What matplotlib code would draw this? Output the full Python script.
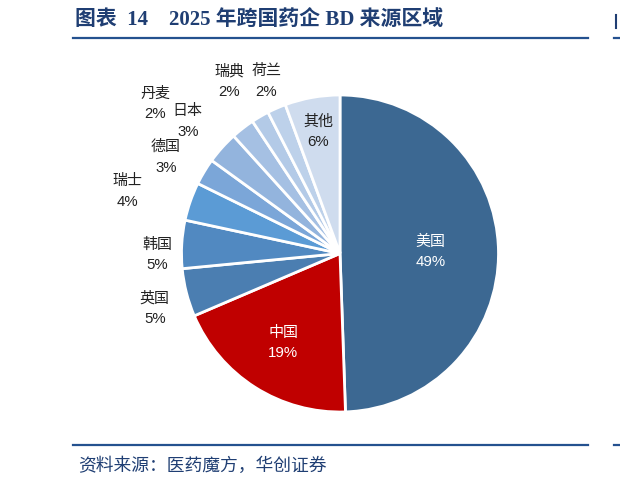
import matplotlib
matplotlib.use('Agg')
import matplotlib.pyplot as plt
import numpy as np
from matplotlib.lines import Line2D

# ---- data ----
regions = ['美国', '中国', '英国', '韩国', '瑞士', '德国', '日本', '丹麦', '瑞典', '荷兰', '其他']
shares = [49.4, 19.1, 4.9, 4.9, 3.9, 2.7, 3.3, 2.4, 1.8, 1.9, 5.6]
pct_labels = ['49%', '19%', '5%', '5%', '4%', '3%', '3%', '2%', '2%', '2%', '6%']
title = '图表  14    2025 年跨国药企 BD 来源区域'
source = '资料来源：医药魔方，华创证券'

# ---- style / layout ----
colors = ['#3C6892', '#C00000', '#4B7EB1', '#5189C1', '#5B9BD5', '#7BA6D8',
          '#93B4DD', '#A5C0E3', '#B3CAE7', '#BDD1EA', '#CFDCEE']
label_r = [0.57, 0.67, 1.22, 1.155, 1.40, 1.255, 1.27, 1.50, 1.29, 1.18, 0.78]
label_da = [0, 0, 2.3, 3.7, 2.9, 2.2, 1.0, 13.2, 2.6, -0.4, 0]
label_col = ['white', 'white', '#222222', '#222222', '#222222', '#222222',
             '#222222', '#222222', '#222222', '#222222', '#222222']
sans = ['Liberation Sans', 'Noto Sans CJK SC', 'DejaVu Sans']
serif = ['Liberation Serif', 'Noto Sans CJK SC', 'DejaVu Sans']
navy = '#1F3E73'
line_col = '#24518F'

W, H = 620, 487
fig = plt.figure(figsize=(W / 100, H / 100), dpi=100)
ax = fig.add_axes([181.5 / W, 75 / H, 317 / W, 317 / H])
wedges, _ = ax.pie(shares, colors=colors, startangle=90, counterclock=False,
                   wedgeprops=dict(edgecolor='white', linewidth=2.0), radius=1)
ax.set_xlim(-1, 1)
ax.set_ylim(-1, 1)
ax.set_aspect('equal')
ax.axis('off')

for w, name, pct, r, da, tc in zip(wedges, regions, pct_labels, label_r, label_da, label_col):
    mid = np.deg2rad((w.theta1 + w.theta2) / 2 + da)
    ax.text(r * np.cos(mid), r * np.sin(mid), f'{name}\n{pct}', ha='center', va='center',
            fontsize=10.8, color=tc, family=sans, linespacing=1.6, clip_on=False)

# title and rules
fig.text(75 / W, 1 - 20 / H, title, ha='left', va='center', fontsize=15,
         weight='bold', color=navy, family=serif)
fig.add_artist(Line2D([73 / W, 588 / W], [1 - 37.7 / H] * 2, color=line_col, lw=1.6))
fig.add_artist(Line2D([73 / W, 588 / W], [1 - 445 / H] * 2, color=line_col, lw=1.6))
# fragments of the neighbouring panel at the right edge
fig.add_artist(Line2D([614 / W, 1.0], [1 - 37.7 / H] * 2, color=line_col, lw=1.6))
fig.add_artist(Line2D([614 / W, 1.0], [1 - 445 / H] * 2, color=line_col, lw=1.6))
fig.add_artist(Line2D([616 / W, 616 / W], [1 - 15 / H, 1 - 28 / H], color=navy, lw=1.5))

fig.text(78 / W, 1 - 466 / H, source, ha='left', va='center', fontsize=12.8,
         style='italic', color=navy, family=sans)

fig.savefig('out.png', dpi=100, facecolor='white')
